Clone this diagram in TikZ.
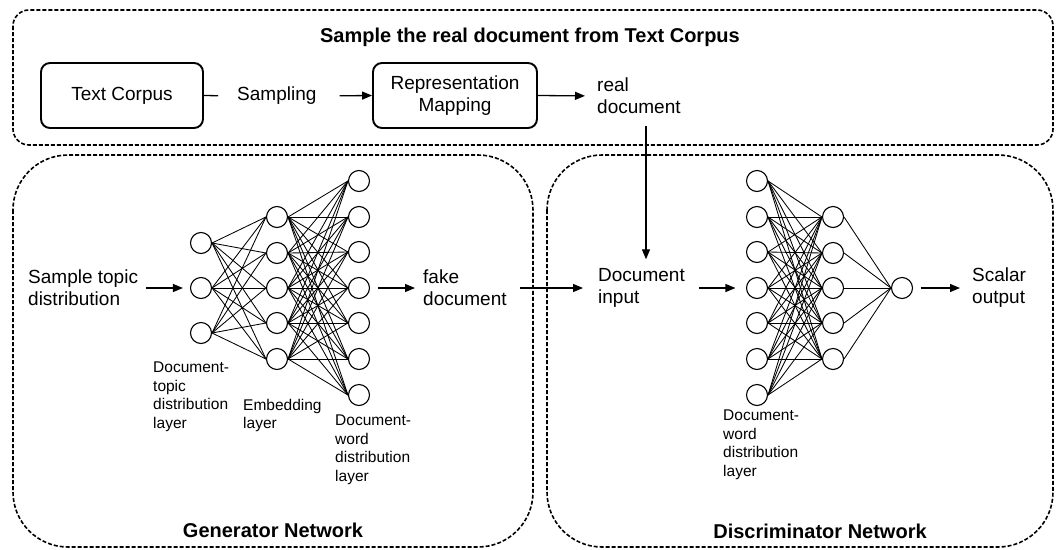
\documentclass[tikz,border=0pt]{standalone}
\usepackage{fontspec}
\setmainfont{Liberation Sans}
\usetikzlibrary{arrows.meta}
\begin{document}
\begin{tikzpicture}[x=1pt,y=-1pt,
  neuron/.style={circle, draw, line width=1.1pt, minimum size=21pt, inner sep=0pt},
  edge/.style={line width=0.85pt},
  arr/.style={line width=1.3pt, -{Triangle[length=10pt,width=8pt]}},
  plain/.style={line width=1.3pt},
  txt/.style={inner sep=0pt, font=\fontsize{19}{22}\selectfont, align=left, anchor=west},
  small/.style={inner sep=0pt, font=\fontsize{15.5}{18.5}\selectfont, align=left, anchor=north west},
  ttl/.style={inner sep=0pt, font=\fontsize{20}{24}\selectfont\bfseries},
  group/.style={draw, dash pattern=on 4pt off 2pt, line width=1.6pt},
  stepbox/.style={draw, line width=1.9pt, rounded corners=9pt, minimum width=162pt, minimum height=65pt, align=center, inner sep=0pt, font=\fontsize{19}{22}\selectfont}
]
\useasboundingbox (0,0) rectangle (1056,549);

% group frames
\draw[group, rounded corners=16pt] (13,10) rectangle (1053,145);
\draw[group, rounded corners=55pt] (13,155) rectangle (533,547);
\draw[group, rounded corners=55pt] (547,155) rectangle (1053,547);

% top row
\node[ttl] (ttop) at (530,37) {Sample the real document from Text Corpus};
\node[stepbox] (tc) at (122,95.5) {Text Corpus};
\node[txt] (samp) at (237,96) {Sampling};
\node[stepbox, minimum width=164pt] (rep) at (455,95.5) {Representation\\Mapping};
\node[txt] (real) at (597,96) {real\\document};
\draw[plain, shorten >=19pt] (tc.east) -- (samp.west);
\draw[arr, shorten <=23pt] (samp.east) -- (rep.west);
\draw[arr, shorten >=12pt] (rep.east) -- (real.west);

% generator
\foreach \y [count=\i] in {243,288,333} \node[neuron] (ga\i) at (201,\y) {};
\foreach \y [count=\i] in {217,253,288,323,359} \node[neuron] (gb\i) at (277,\y) {};
\foreach \y [count=\i] in {181,217,252,288,323,359,395} \node[neuron] (gc\i) at (359,\y) {};
\foreach \i in {1,...,3} \foreach \j in {1,...,5} \draw[edge] (ga\i.east) -- (gb\j.west);
\foreach \i in {1,...,5} \foreach \j in {1,...,7} \draw[edge] (gb\i.east) -- (gc\j.west);

\node[txt] (st) at (28,288) {Sample topic\\distribution};
\node[txt] (fake) at (423,288) {fake\\document};
\draw[arr, shorten <=8pt, shorten >=7pt] (st.east) -- (ga2.west);
\draw[arr, shorten <=7.5pt, shorten >=8pt] (gc4.east) -- (fake.west);

\node[small] (lga) at (153,362) {Document-\\topic\\distribution\\layer};
\node[small] (lgb) at (243,399) {Embedding\\layer};
\node[small] (lgc) at (335,415) {Document-\\word\\distribution\\layer};
\node[ttl] (tgen) at (273,530) {Generator Network};

% discriminator
\foreach \y [count=\i] in {181,217,252,288,323,359,395} \node[neuron] (da\i) at (757,\y) {};
\foreach \y [count=\i] in {217,253,288,323,359} \node[neuron] (db\i) at (833,\y) {};
\node[neuron] (out) at (902,288) {};
\foreach \i in {1,...,7} \foreach \j in {1,...,5} \draw[edge] (da\i.east) -- (db\j.west);
\foreach \i in {1,...,5} \draw[edge] (db\i.east) -- (out.west);

\node[txt] (docin) at (598,288) {Document\\input};
\node[txt] (scal) at (972,288) {Scalar\\output};
\draw[arr, shorten <=13pt, shorten >=15pt] (fake.east) -- (docin.west);
\draw[arr, shorten <=14pt, shorten >=10.5pt] (docin.east) -- (da4.west);
\draw[arr, shorten <=7.5pt, shorten >=12pt] (out.east) -- (scal.west);

\coordinate (vtop) at (646,126);
\draw[arr, shorten >=9pt] (vtop) -- (vtop |- docin.north);

\node[small] (lda) at (723,410) {Document-\\word\\distribution\\layer};
\node[ttl] (tdis) at (820,531) {Discriminator Network};
\end{tikzpicture}
\end{document}
